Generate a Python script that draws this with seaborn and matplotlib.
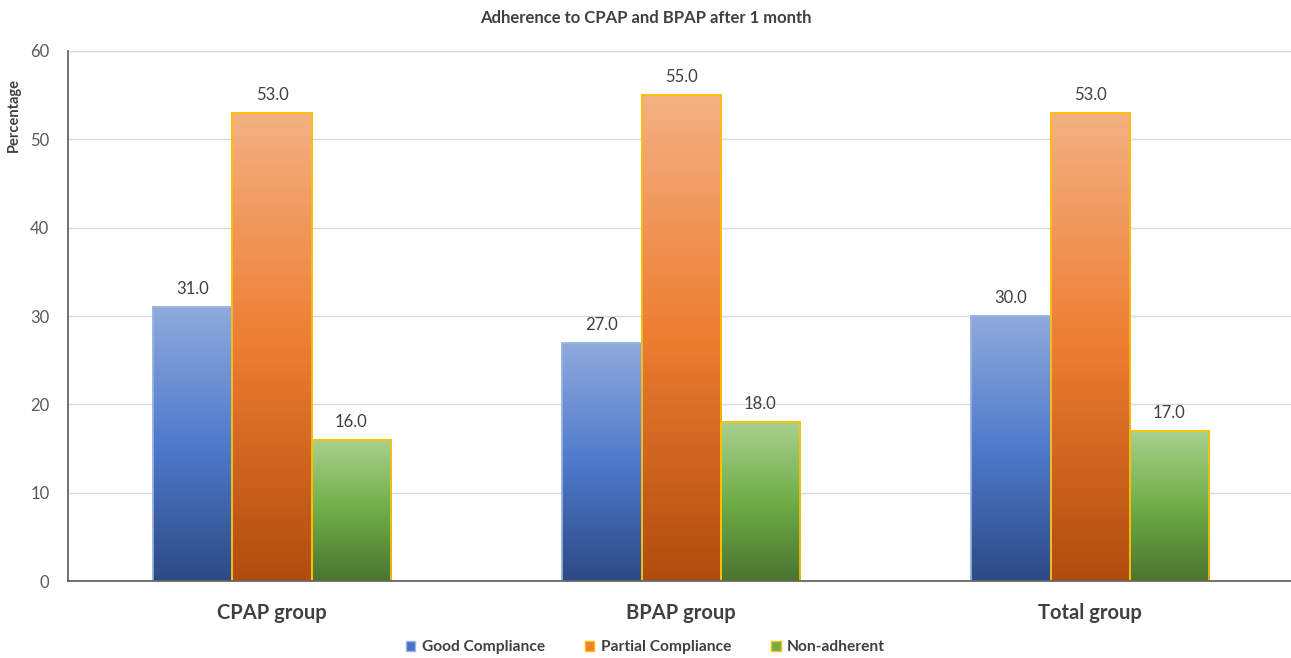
import numpy as np
import pandas as pd
import matplotlib
matplotlib.use("Agg")
import matplotlib.pyplot as plt
import seaborn as sns
from matplotlib.colors import LinearSegmentedColormap
from matplotlib.patches import Patch

groups = ["CPAP group", "BPAP group", "Total group"]
series = ["Good Compliance", "Partial Compliance", "Non-adherent"]
good = [31.0, 27.0, 30.0]
partial = [53.0, 55.0, 53.0]
nonadh = [16.0, 18.0, 17.0]
yticks = [0, 10, 20, 30, 40, 50, 60]

rows = []
for s, vals in zip(series, [good, partial, nonadh]):
    for g, v in zip(groups, vals):
        rows.append({"group": g, "series": s, "value": v})
df = pd.DataFrame(rows)

base = {"Good Compliance": "#4472C4", "Partial Compliance": "#ED7D31", "Non-adherent": "#70AD47"}
grads = {
    "Good Compliance": ["#8FAADC", "#4F7ACB", "#2C4A85"],
    "Partial Compliance": ["#F4B183", "#ED7D31", "#B04C0E"],
    "Non-adherent": ["#A9D18E", "#70AD47", "#4A7530"],
}
edges = {"Good Compliance": "#9DB5E0", "Partial Compliance": "#FFC000", "Non-adherent": "#FFC000"}

sns.set_theme(style="white")
plt.rcParams['font.family'] = ['Lato', 'DejaVu Sans']

fig = plt.figure(figsize=(12.91, 6.58), dpi=100)
ax = fig.add_axes([0.0523, 0.117, 0.9505, 0.8055])

sns.barplot(data=df, x="group", y="value", hue="series", order=groups,
            hue_order=series, palette=base, width=0.58, gap=0, ax=ax,
            legend=False, saturation=1, errorbar=None, linewidth=1.2)

grad = np.linspace(1, 0, 256).reshape(-1, 1)
for i, s in enumerate(series):
    cont = ax.containers[i]
    cmap = LinearSegmentedColormap.from_list(s, grads[s][::-1])
    for bar, v in zip(cont, [good, partial, nonadh][i]):
        bar.set_edgecolor(edges[s])
        bar.set_linewidth(1.2)
        x0 = bar.get_x(); w = bar.get_width(); h = bar.get_height()
        im = ax.imshow(grad, cmap=cmap, aspect="auto", extent=[x0, x0 + w, 0, h],
                       origin="upper", zorder=bar.get_zorder() + 0.1, vmin=0, vmax=1)
        im.set_clip_path(bar)
        edge = plt.Rectangle((x0, 0), w, h, fill=False, edgecolor=edges[s],
                             linewidth=1.2, zorder=bar.get_zorder() + 0.2)
        ax.add_patch(edge)
        ax.text(x0 + w / 2, h + 1.1, f"{v:.1f}", ha="center", va="bottom",
                fontsize=12, color="#404040")
ax.set_xlim(-0.5, 2.5)
ax.set_ylim(0, 60)

ax.set_yticks(yticks)
ax.set_yticklabels([str(t) for t in yticks], fontsize=12, color="#595959")
ax.tick_params(axis="y", length=0, pad=13)
ax.tick_params(axis="x", length=0, pad=16)
for lab in ax.get_xticklabels():
    lab.set_fontsize(14.5)
    lab.set_fontweight("bold")
    lab.set_color("#404040")
ax.set_xlabel("")
ax.set_ylabel("Percentage", fontsize=10.5, fontweight="bold", color="#404040")
ax.yaxis.set_label_coords(-0.038, 0.88)

ax.grid(axis="y", color="#D9D9D9", linewidth=1)
ax.set_axisbelow(True)
for sp in ["top", "right"]:
    ax.spines[sp].set_visible(False)
ax.spines["left"].set_color("#595959")
ax.spines["bottom"].set_color("#595959")
ax.spines["left"].set_linewidth(1.2)
ax.spines["bottom"].set_linewidth(1.2)

fig.text(0.5, 0.972, "Adherence to CPAP and BPAP after 1 month", ha="center", va="center",
         fontsize=12, fontweight="bold", color="#404040")

handles = [Patch(facecolor=base[s], edgecolor=edges[s], label=s) for s in series]
leg = fig.legend(handles=handles, loc="center", bbox_to_anchor=(0.5, 0.016), ncol=3,
                 frameon=False, fontsize=11.2, handlelength=0.6, handleheight=0.6,
                 handletextpad=0.4, columnspacing=2.6)
for t in leg.get_texts():
    t.set_fontweight("bold")
    t.set_color("#404040")

fig.savefig("out.png", dpi=100)
